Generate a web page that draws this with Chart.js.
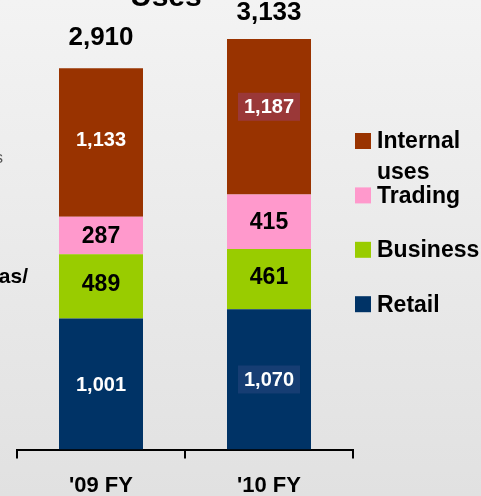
<!DOCTYPE html>
<html lang="en">
<head>
<meta charset="UTF-8">
<title>Uses</title>
<script src="https://cdn.jsdelivr.net/npm/chart.js"></script>
<style>
  html, body { margin: 0; padding: 0; overflow: hidden; }
  body {
    width: 481px;
    height: 496px;
    background: linear-gradient(#f3f3f3, #e1e1e1);
  }
  #wrap { position: relative; width: 481px; height: 513px; }
</style>
</head>
<body>
<div id="wrap"><canvas id="grafico" width="481" height="513"></canvas></div>
<script>
// datos
const years = ["'09 FY", "'10 FY"];
const retail = [1001, 1070];
const business = [489, 461];
const trading = [287, 415];
const internalUses = [1133, 1187];
const totals = [2910, 3133];

const FONT = '"Liberation Sans", Arial, sans-serif';
const fmt = v => v.toLocaleString('en-US');

// etiquetas dentro de las barras y totales encima
const barLabels = {
  id: 'barLabels',
  afterDatasetsDraw(chart) {
    const ctx = chart.ctx;
    ctx.save();
    ctx.textAlign = 'center';
    ctx.textBaseline = 'middle';
    chart.data.datasets.forEach((ds, di) => {
      const meta = chart.getDatasetMeta(di);
      meta.data.forEach((bar, i) => {
        let cy = (bar.y + bar.base) / 2 + (ds.labelShift ? ds.labelShift[i] : 0);
        const txt = fmt(ds.data[i]);
        ctx.font = 'bold ' + ds.labelSize + 'px ' + FONT;
        if (ds.labelBox && ds.labelBox[i]) {
          const w = ctx.measureText(txt).width;
          ctx.fillStyle = ds.labelBox[i];
          ctx.fillRect(bar.x - w / 2 - 6, cy - 14, w + 12, 28);
        }
        ctx.fillStyle = ds.labelColor;
        ctx.fillText(txt, bar.x, cy + 1);
      });
    });
    // totales
    const top = chart.getDatasetMeta(chart.data.datasets.length - 1);
    ctx.font = 'bold 26px ' + FONT;
    ctx.fillStyle = '#000';
    ctx.textBaseline = 'alphabetic';
    top.data.forEach((bar, i) => {
      ctx.fillText(fmt(totals[i]), bar.x, bar.y - 23 + (i === 1 ? 4 : 0));
    });
    ctx.restore();
  }
};

// leyenda lateral
const sideLegend = {
  id: 'sideLegend',
  afterDraw(chart) {
    const ctx = chart.ctx;
    const items = chart.data.datasets.slice().reverse();
    ctx.save();
    ctx.font = 'bold 23px ' + FONT;
    ctx.textBaseline = 'middle';
    ctx.textAlign = 'left';
    items.forEach((ds, k) => {
      const y = 141 + k * 54.4;
      ctx.fillStyle = ds.backgroundColor;
      ctx.fillRect(355, y - 8, 16, 16);
      ctx.fillStyle = '#000';
      const lines = Array.isArray(ds.legendText) ? ds.legendText : [ds.label];
      lines.forEach((l, j) => ctx.fillText(l, 377, y + 1 + j * 31));
    });
    // textos recortados de la diapositiva
    ctx.font = 'bold 30px ' + FONT;
    ctx.textBaseline = 'alphabetic';
    ctx.fillText('Uses', 130, 6);
    ctx.font = 'bold 21px ' + FONT;
    ctx.textAlign = 'right';
    ctx.fillText('as/', 28, 283);
    ctx.font = '16px ' + FONT;
    ctx.fillStyle = '#555';
    ctx.fillText('s', 3, 163);
    ctx.restore();
  }
};

const ctx1 = document.getElementById('grafico').getContext('2d');
const grafico = new Chart(ctx1, {
  type: 'bar',
  data: {
    labels: years,
    datasets: [
      { label: 'Retail', data: retail, backgroundColor: '#003366',
        labelColor: '#fff', labelSize: 20,
        labelBox: [null, 'rgba(40,70,125,0.55)'] },
      { label: 'Business', data: business, backgroundColor: '#99cc00',
        labelColor: '#000', labelSize: 23, labelShift: [-3, -3] },
      { label: 'Trading', data: trading, backgroundColor: '#ff99cc',
        labelColor: '#000', labelSize: 23 },
      { label: 'Internal uses', legendText: ['Internal', 'uses'], data: internalUses,
        backgroundColor: '#993300', labelColor: '#fff', labelSize: 20,
        labelShift: [-3, -10], labelBox: [null, '#9a3838'] }
    ]
  },
  options: {
    responsive: false,
    devicePixelRatio: 1,
    animation: false,
    layout: { padding: { left: 17, right: 128, top: 4, bottom: 0 } },
    datasets: { bar: { barPercentage: 0.5, categoryPercentage: 1 } },
    plugins: { legend: { display: false }, tooltip: { enabled: false } },
    scales: {
      x: {
        stacked: true,
        grid: { offset: true, drawOnChartArea: false, drawTicks: true, tickLength: 9, color: '#000', lineWidth: 2 },
        border: { display: true, color: '#000', width: 2 },
        ticks: { color: '#000', padding: 14, font: { family: FONT, size: 22, weight: 'bold' } }
      },
      y: { stacked: true, display: false, min: 0, max: 3400 }
    }
  },
  plugins: [barLabels, sideLegend]
});
</script>
</body>
</html>
